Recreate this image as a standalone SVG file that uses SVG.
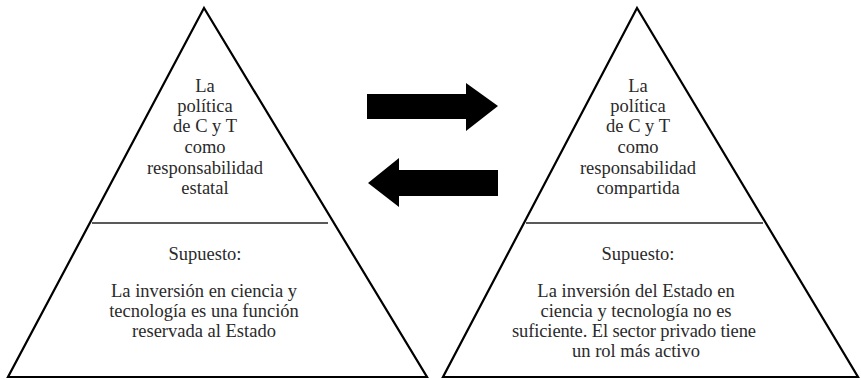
<svg xmlns="http://www.w3.org/2000/svg" width="861" height="380" viewBox="0 0 861 380">
<style>
.tri{fill:none;stroke:#000;stroke-width:2.2;stroke-linejoin:miter}
.div{stroke:#222;stroke-width:1.5}
.t{font-family:"Liberation Serif","Times New Roman",serif;font-size:18.5px;fill:#2a2a2a;text-anchor:middle}
.arr{fill:#000}
</style>
<rect width="861" height="380" fill="#fff"/>
<g id="left-pyramid">
<polygon class="tri" points="204,8 8,377 427,377"/>
<line class="div" x1="92" y1="223" x2="328" y2="223"/>
<text class="t" x="205" y="92">La</text>
<text class="t" x="205" y="112">política</text>
<text class="t" x="205" y="132">de C y T</text>
<text class="t" x="205" y="153">como</text>
<text class="t" x="205" y="174">responsabilidad</text>
<text class="t" x="205" y="194">estatal</text>
<text class="t" x="205" y="260">Supuesto:</text>
<text class="t" x="204" y="297">La inversión en ciencia y</text>
<text class="t" x="204" y="317">tecnología es una función</text>
<text class="t" x="204" y="337">reservada al Estado</text>
</g>
<g id="right-pyramid">
<polygon class="tri" points="637,8 443,377 858,377"/>
<line class="div" x1="526" y1="223" x2="763" y2="223"/>
<text class="t" x="638" y="92">La</text>
<text class="t" x="638" y="112">política</text>
<text class="t" x="638" y="132">de C y T</text>
<text class="t" x="638" y="153">como</text>
<text class="t" x="638" y="174">responsabilidad</text>
<text class="t" x="638" y="194">compartida</text>
<text class="t" x="638" y="260">Supuesto:</text>
<text class="t" x="636" y="297">La inversión del Estado en</text>
<text class="t" x="636" y="317">ciencia y tecnología no es</text>
<text class="t" x="634" y="337" textLength="244" lengthAdjust="spacing">suficiente. El sector privado tiene</text>
<text class="t" x="636" y="357">un rol más activo</text>
</g>
<g id="connectors">
<polygon class="arr" points="367,94 466,94 466,83 498,106 466,131 466,119 367,119"/>
<polygon class="arr" points="498,170 399,170 399,158 368,183 399,207 399,196 498,196"/>
</g>
</svg>
